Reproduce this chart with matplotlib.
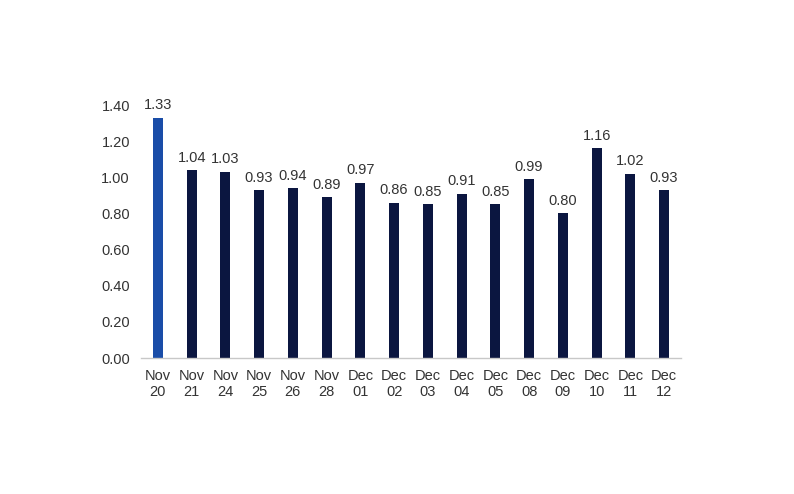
import matplotlib.pyplot as plt
import numpy as np

# dates and values
months = ["Nov", "Nov", "Nov", "Nov", "Nov", "Nov", "Dec", "Dec", "Dec", "Dec",
          "Dec", "Dec", "Dec", "Dec", "Dec", "Dec"]
days = ["20", "21", "24", "25", "26", "28", "01", "02", "03", "04",
        "05", "08", "09", "10", "11", "12"]
values = [1.33, 1.04, 1.03, 0.93, 0.94, 0.89, 0.97, 0.86, 0.85, 0.91,
          0.85, 0.99, 0.80, 1.16, 1.02, 0.93]

plt.rcParams['font.family'] = ['Liberation Sans', 'DejaVu Sans']
fig = plt.figure(figsize=(7.94, 4.94), dpi=100)
ax = fig.add_axes([0.1776, 0.2753, 0.68, 0.5121])

x = np.arange(len(values))
colors = ['#1a4da8'] + ['#0b1640'] * (len(values) - 1)
ax.bar(x, values, width=0.3, color=colors)

# value labels above bars
for xi, v in zip(x, values):
    ax.text(xi, v + 0.03, '%.2f' % v, ha='center', va='bottom',
            fontsize=10.5, color='#333333')

ax.set_xlim(-0.5, len(values) - 0.5)
ax.set_ylim(0, 1.4)
ax.set_yticks(np.arange(0, 1.41, 0.2))
ax.set_yticklabels(['%.2f' % t for t in np.arange(0, 1.41, 0.2)])
ax.set_xticks(x)
ax.set_xticklabels([m + '\n' + d for m, d in zip(months, days)],
                   linespacing=1.15)
ax.tick_params(length=0, labelsize=10.5, colors='#333333')
ax.tick_params(axis='x', pad=8)
ax.tick_params(axis='y', pad=8)

for s in ['top', 'right', 'left']:
    ax.spines[s].set_visible(False)
ax.spines['bottom'].set_color('#c8c8c8')
ax.spines['bottom'].set_linewidth(1)

fig.savefig('out.png', dpi=100)
